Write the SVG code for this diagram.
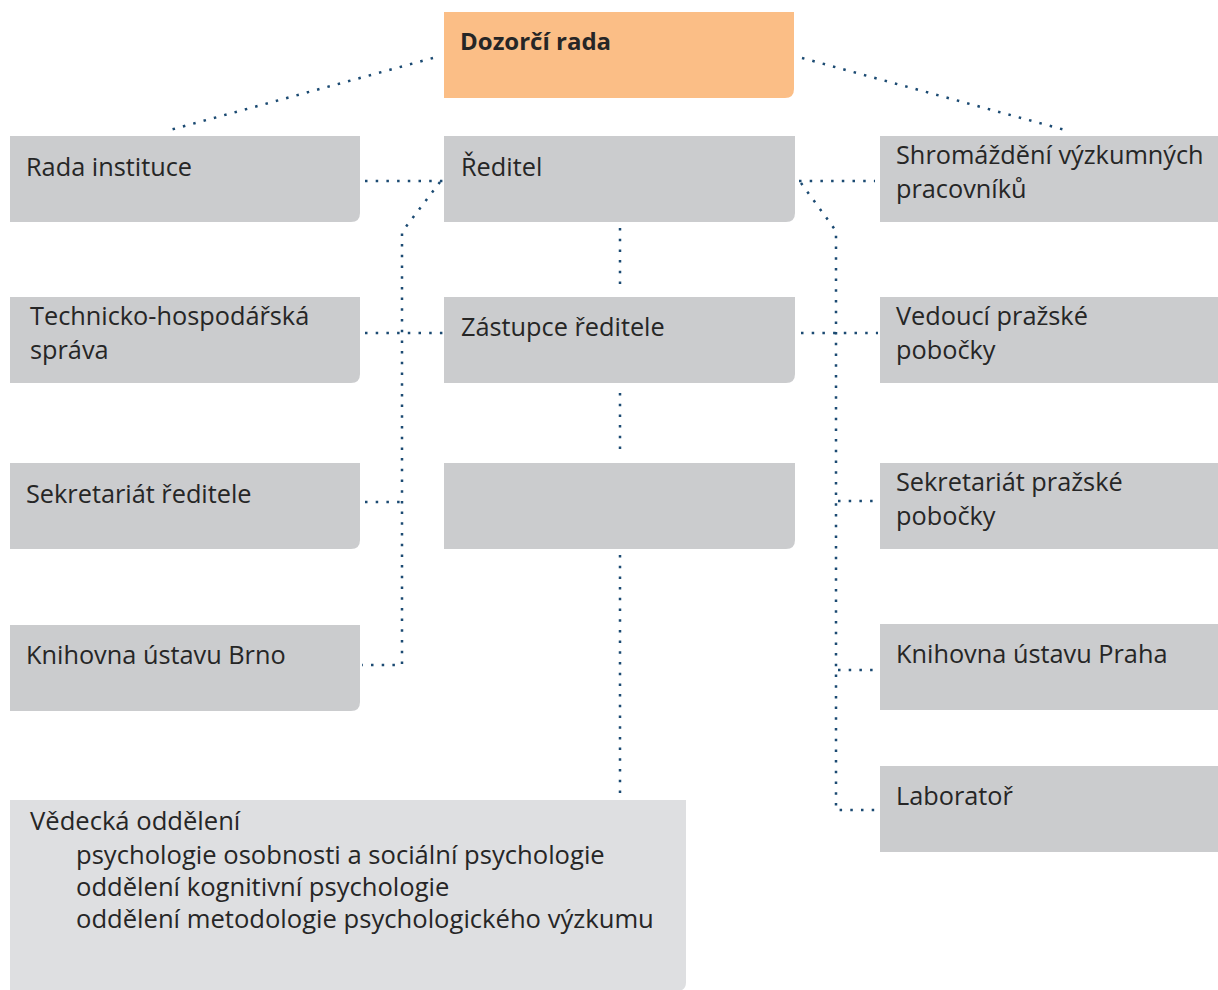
<svg xmlns="http://www.w3.org/2000/svg" width="1218" height="990" viewBox="0 0 1218 990">
<style>
.box{fill:#CBCCCE}
.box2{fill:#DEDFE1}
.top{fill:#FBBE86}
text{font-family:"Open Sans","Noto Sans","Liberation Sans",sans-serif;font-size:25.3px;fill:#262626}
.b{font-weight:bold;font-size:24px}
.v{font-size:25.6px}
.c{fill:none;stroke:#1B4A72;stroke-width:2.5;stroke-dasharray:2.5 8.2}
</style>
<rect width="1218" height="990" fill="#FFFFFF"/>
<g id="connectors">
<path class="c" d="M433,58 L170,130"/>
<path class="c" d="M802,58 L1065,130"/>
<path class="c" d="M365,181 H443"/>
<path class="c" d="M440,182 L402,232 V665 H362"/>
<path class="c" d="M365,333 H443"/>
<path class="c" d="M365,502 H400"/>
<path class="c" d="M799,181 H875"/>
<path class="c" d="M801,183 L836,231 V810 H878"/>
<path class="c" d="M801,333 H878"/>
<path class="c" d="M838,501 H878"/>
<path class="c" d="M838,670 H878"/>
<path class="c" d="M620,228 V292"/>
<path class="c" d="M620,393 V457"/>
<path class="c" d="M620,555 V798"/>
</g>
<g id="dozorci">
<path class="top" d="M444,12 H794 V89 Q794,98 785,98 H444 Z"/>
<text class="b" x="460" y="50">Dozorčí rada</text>
</g>
<g id="rada">
<path class="box" d="M10,136 H360 V213 Q360,222 351,222 H10 Z"/>
<text x="26" y="176">Rada instituce</text>
</g>
<g id="reditel">
<path class="box" d="M444,136 H795 V213 Q795,222 786,222 H444 Z"/>
<text x="461" y="176">Ředitel</text>
</g>
<g id="shromazdeni">
<rect class="box" x="880" y="136" width="340" height="86"/>
<text x="896" y="164">Shromáždění výzkumných</text>
<text x="896" y="198">pracovníků</text>
</g>
<g id="technicko">
<path class="box" d="M10,297 H360 V374 Q360,383 351,383 H10 Z"/>
<text x="30" y="325">Technicko-hospodářská</text>
<text x="30" y="359">správa</text>
</g>
<g id="zastupce">
<path class="box" d="M444,297 H795 V374 Q795,383 786,383 H444 Z"/>
<text x="461" y="336">Zástupce ředitele</text>
</g>
<g id="vedouci">
<rect class="box" x="880" y="297" width="340" height="86"/>
<text x="896" y="325">Vedoucí pražské</text>
<text x="896" y="359">pobočky</text>
</g>
<g id="sekretariat-reditele">
<path class="box" d="M10,463 H360 V540 Q360,549 351,549 H10 Z"/>
<text x="26" y="503">Sekretariát ředitele</text>
</g>
<g id="prazdny">
<path class="box" d="M444,463 H795 V540 Q795,549 786,549 H444 Z"/>
</g>
<g id="sekretariat-prazske">
<rect class="box" x="880" y="463" width="340" height="86"/>
<text x="896" y="491">Sekretariát pražské</text>
<text x="896" y="525">pobočky</text>
</g>
<g id="knihovna-brno">
<path class="box" d="M10,625 H360 V702 Q360,711 351,711 H10 Z"/>
<text x="26" y="664">Knihovna ústavu Brno</text>
</g>
<g id="knihovna-praha">
<rect class="box" x="880" y="624" width="340" height="86"/>
<text x="896" y="663">Knihovna ústavu Praha</text>
</g>
<g id="laborator">
<rect class="box" x="880" y="766" width="340" height="86"/>
<text x="896" y="805">Laboratoř</text>
</g>
<g id="vedecka">
<path class="box2" d="M10,800 H686 V982 Q686,991 677,991 H10 Z"/>
<text class="v" x="30" y="830">Vědecká oddělení</text>
<text class="v" x="76" y="864">psychologie osobnosti a sociální psychologie</text>
<text class="v" x="76" y="896">oddělení kognitivní psychologie</text>
<text class="v" x="76" y="928">oddělení metodologie psychologického výzkumu</text>
</g>
</svg>
